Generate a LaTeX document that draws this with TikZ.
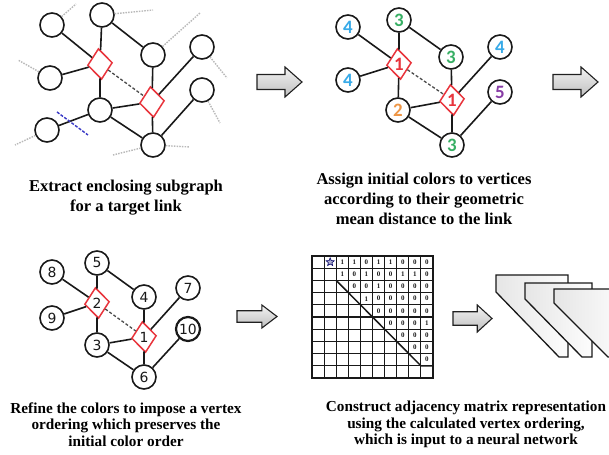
\documentclass[tikz,border=0pt]{standalone}
\usepackage{fontspec}
\setmainfont{Liberation Serif}
\newfontfamily\numfont{Carlito}
\newfontfamily\plainnum{DejaVu Sans}
\usetikzlibrary{shapes.geometric}

\definecolor{lnkred}{RGB}{232,52,60}
\definecolor{cblue}{RGB}{55,170,232}
\definecolor{cgreen}{RGB}{55,175,100}
\definecolor{corange}{RGB}{238,150,70}
\definecolor{cpurple}{RGB}{135,60,165}
\definecolor{inkc}{RGB}{25,25,25}

\tikzset{
  blockarrow/.pic={
    \path[barrow] (0,-7.5) -- (28,-7.5) -- (28,-15) -- (45,0) -- (28,15) -- (28,7.5) -- (0,7.5) -- cycle;
  }
}

\begin{document}
\begin{tikzpicture}[x=1bp,y=-1bp,
  vtx/.style={circle, draw=inkc, line width=1.6bp, minimum size=24bp, inner sep=0pt, fill=white},
  lnk/.style={diamond, draw=lnkred, line width=1.5bp, minimum width=25bp, minimum height=31bp, inner sep=0pt, fill=white, rotate=6},
  edge/.style={draw=inkc, line width=1.6bp},
  tlink/.style={draw=gray!60!black, line width=1.3bp, dash pattern=on 3bp off 2bp},
  stub/.style={draw=gray!55, line width=1.4bp, dash pattern=on 1.5bp off 1.2bp},
  cut/.style={draw=blue!55!gray, line width=1.4bp, dash pattern=on 3bp off 1.5bp},
  clab/.style={font=\numfont\bfseries\fontsize{19}{19}\selectfont},
  plab/.style={font=\plainnum\fontsize{14}{14}\selectfont, text=inkc},
  barrow/.style={draw=gray!25!black, line width=1.1bp, top color=gray!10, bottom color=gray!50},
  caption top/.style={align=center, font=\bfseries\fontsize{16.6}{20}\selectfont},
  caption bottom/.style={align=center, font=\bfseries\fontsize{15.3}{16.7}\selectfont},
  grid/.style={draw=inkc, line width=1.1bp},
  ent/.style={font=\bfseries\fontsize{7}{7}\selectfont, text=gray!20!black, inner sep=0pt},
  slab/.style={draw=inkc, line width=1.3bp, left color=gray!20, right color=gray!2},
]
\clip (0,0) rectangle (609,455);
\fill[white] (0,0) rectangle (609,455);

% ---------- step 1: enclosing subgraph ----------
\node[vtx] (pA) at (52,25) {};
\node[vtx] (pB) at (102,15) {};
\node[vtx] (pC) at (153,55) {};
\node[vtx] (pD) at (202,47) {};
\node[vtx] (pE) at (202,90) {};
\node[vtx] (pF) at (50,78) {};
\node[vtx] (pG) at (100,110) {};
\node[vtx] (pH) at (47,130) {};
\node[vtx] (pI) at (153,145) {};
\node[lnk] (pL) at (100,64) {};
\node[lnk] (pR) at (152,102) {};

\coordinate (sA) at (76,4);
\coordinate (sB) at (153,10);
\coordinate (sC) at (200,13);
\coordinate (sD) at (227,78);
\coordinate (sE) at (220,123);
\coordinate (sF) at (18,60);
\coordinate (sH) at (15,145);
\coordinate (sI1) at (113,155);
\coordinate (sI2) at (190,147);
\coordinate (cut1) at (57,112);
\coordinate (cut2) at (88,135);

\draw[stub] (pA) -- (sA);
\draw[stub] (pB) -- (sB);
\draw[stub] (pC) -- (sC);
\draw[stub] (pD) -- (sD);
\draw[stub] (pE) -- (sE);
\draw[stub] (pF) -- (sF);
\draw[stub] (pH) -- (sH);
\draw[stub] (pI) -- (sI1);
\draw[stub] (pI) -- (sI2);

\draw[edge] (pA) -- (pL);
\draw[edge] (pB) -- (pL);
\draw[edge] (pF) -- (pL);
\draw[edge] (pL) -- (pG);
\draw[edge] (pB) -- (pC);
\draw[edge] (pC) -- (pR);
\draw[edge] (pD) -- (pR);
\draw[edge] (pG) -- (pR);
\draw[edge] (pR) -- (pI);
\draw[edge] (pG) -- (pI);
\draw[edge] (pE) -- (pI);
\draw[edge] (pH) -- (pG);
\draw[tlink] (pL) -- (pR);
\draw[cut] (cut1) -- (cut2);

\node[caption top] (cap1) at (126,198) {Extract enclosing subgraph\\for a target link};

% ---------- step 2: initial colours ----------
\pic at (257,82) {blockarrow};

\node[vtx, clab, text=cblue] (qA) at (348,27) {4};
\node[vtx, clab, text=cgreen] (qB) at (399,20) {3};
\node[vtx, clab, text=cgreen] (qC) at (451,57) {3};
\node[vtx, clab, text=cblue] (qD) at (500,47) {4};
\node[vtx, clab, text=cpurple] (qE) at (500,92) {5};
\node[vtx, clab, text=cblue] (qF) at (348,80) {4};
\node[vtx, clab, text=corange] (qG) at (398,110) {2};
\node[vtx, clab, text=cgreen] (qI) at (452,145) {3};
\node[lnk] (qL) at (399,64) {};
\node[lnk] (qR) at (452,100) {};
\node[clab, text=lnkred] at (qL) {1};
\node[clab, text=lnkred] at (qR) {1};

\draw[edge] (qA) -- (qL);
\draw[edge] (qB) -- (qL);
\draw[edge] (qF) -- (qL);
\draw[edge] (qL) -- (qG);
\draw[edge] (qB) -- (qC);
\draw[edge] (qC) -- (qR);
\draw[edge] (qD) -- (qR);
\draw[edge] (qG) -- (qR);
\draw[edge] (qR) -- (qI);
\draw[edge] (qG) -- (qI);
\draw[edge] (qE) -- (qI);
\draw[tlink] (qL) -- (qR);

\pic at (553,82) {blockarrow};

\node[caption top] (cap2) at (424,199) {Assign initial colors to vertices\\according to their geometric\\mean distance to the link};

% ---------- step 3: refined ordering ----------
\node[vtx, plab] (r8) at (52,272) {8};
\node[vtx, plab] (r5) at (97,263) {5};
\node[vtx, plab] (r4) at (144,297) {4};
\node[vtx, plab] (r7) at (188,288) {7};
\node[vtx, plab] (r9) at (52,318) {9};
\node[vtx, plab, line width=2.2bp] (r10) at (188,329) {10};
\node[vtx, plab] (r3) at (97,345) {3};
\node[vtx, plab] (r6) at (144,377) {6};
\node[lnk] (rL) at (97,303) {};
\node[lnk] (rR) at (144,337) {};
\node[plab] at (rL) {2};
\node[plab] at (rR) {1};

\draw[edge] (r8) -- (rL);
\draw[edge] (r5) -- (rL);
\draw[edge] (r9) -- (rL);
\draw[edge] (rL) -- (r3);
\draw[edge] (r5) -- (r4);
\draw[edge] (r4) -- (rR);
\draw[edge] (r7) -- (rR);
\draw[edge] (r3) -- (rR);
\draw[edge] (rR) -- (r6);
\draw[edge] (r3) -- (r6);
\draw[edge] (r10) -- (r6);
\draw[tlink] (rL) -- (rR);

\pic[xscale=40/45, yscale=23/30] at (237,316.5) {blockarrow};

\node[caption bottom] (cap3) at (126,424.5) {Refine the colors to impose a vertex\\ordering which preserves the\\initial color order};

% ---------- step 4: adjacency matrix ----------
\def\mx{312}
\def\my{256}
\def\cw{12.1}
\def\ch{12.2}
\foreach \i in {1,...,9} {
  \draw[grid] ({\mx+\i*\cw},\my) -- ({\mx+\i*\cw},{\my+10*\ch});
  \draw[grid] (\mx,{\my+\i*\ch}) -- ({\mx+10*\cw},{\my+\i*\ch});
}
\draw[grid, line width=1.5bp] (\mx,\my) rectangle ({\mx+10*\cw},{\my+10*\ch});
\draw[grid, line width=1.5bp] ({\mx+2*\cw},{\my+2*\ch}) -- ({\mx+9*\cw},{\my+9*\ch}) -- ({\mx+10*\cw},{\my+9*\ch});

\node[star, star points=5, star point ratio=2.3, minimum size=8.5bp, inner sep=0pt,
      fill=blue!25!gray!50, draw=blue!40!black, line width=0.6bp] (mstar) at ({\mx+1.5*\cw},{\my+0.5*\ch}) {};

\foreach \v [count=\k] in {1,1,0,1,1,0,0,0}
  \node[ent] at ({\mx+(\k+1.5)*\cw},{\my+0.5*\ch}) {\v};
\foreach \v [count=\k] in {1,0,1,0,0,1,1,0}
  \node[ent] at ({\mx+(\k+1.5)*\cw},{\my+1.5*\ch}) {\v};
\foreach \v [count=\k] in {0,0,1,0,0,0,0}
  \node[ent] at ({\mx+(\k+2.5)*\cw},{\my+2.5*\ch}) {\v};
\foreach \v [count=\k] in {1,0,0,0,0,0}
  \node[ent] at ({\mx+(\k+3.5)*\cw},{\my+3.5*\ch}) {\v};
\foreach \v [count=\k] in {0,0,0,0,0}
  \node[ent] at ({\mx+(\k+4.5)*\cw},{\my+4.5*\ch}) {\v};
\foreach \v [count=\k] in {0,0,0,1}
  \node[ent] at ({\mx+(\k+5.5)*\cw},{\my+5.5*\ch}) {\v};
\foreach \v [count=\k] in {0,0,0}
  \node[ent] at ({\mx+(\k+6.5)*\cw},{\my+6.5*\ch}) {\v};
\foreach \v [count=\k] in {0,0}
  \node[ent] at ({\mx+(\k+7.5)*\cw},{\my+7.5*\ch}) {\v};
\foreach \v [count=\k] in {0}
  \node[ent] at ({\mx+(\k+8.5)*\cw},{\my+8.5*\ch}) {\v};

\pic[xscale=39/45, yscale=27/30] at (453,318.5) {blockarrow};

% neural network layers
\path[slab] (496,275) -- (568,275) -- (568,357) -- (559,357) -- (496,292) -- cycle;
\path[slab] (525,283) -- (592,283) -- (592,357) -- (582,357) -- (525,299) -- cycle;
\path[slab] (554,289) -- (625,289) -- (625,357) -- (608,357) -- (554,303) -- cycle;

\node[caption bottom] (cap4) at (466,424.5) {Construct adjacency matrix representation\\using the calculated vertex ordering,\\which is input to a neural network};
\end{tikzpicture}
\end{document}
